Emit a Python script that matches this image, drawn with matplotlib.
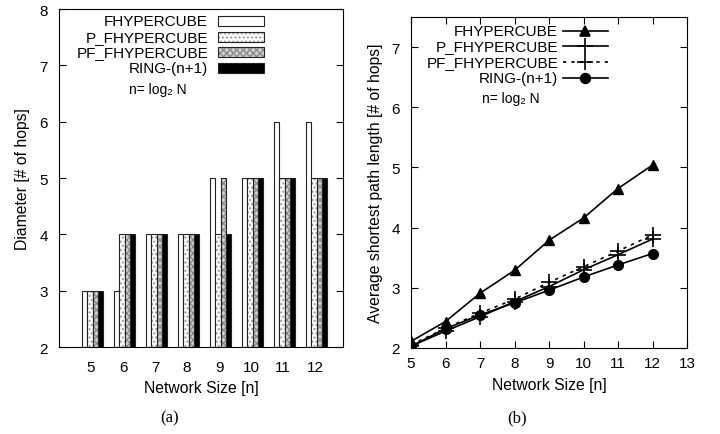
import numpy as np
import matplotlib
matplotlib.use("Agg")
from matplotlib import pyplot as plt
from matplotlib.patches import Rectangle
from matplotlib.lines import Line2D

plt.rcParams['font.family'] = ['Liberation Sans', 'DejaVu Sans']

sizes = [5, 6, 7, 8, 9, 10, 11, 12]
series = ["FHYPERCUBE", "P_FHYPERCUBE", "PF_FHYPERCUBE", "RING-(n+1)"]

# diameter (left panel)
diam_f = [3, 3, 4, 4, 5, 5, 6, 6]
diam_p = [3, 4, 4, 4, 4, 5, 5, 5]
diam_pf = [3, 4, 4, 4, 5, 5, 5, 5]
diam_ring = [3, 4, 4, 4, 4, 5, 5, 5]

# average shortest path length (right panel)
asp_f = [2.11, 2.44, 2.91, 3.29, 3.79, 4.16, 4.65, 5.04]
asp_p = [2.03, 2.28, 2.52, 2.77, 3.02, 3.30, 3.55, 3.81]
asp_pf = [2.05, 2.33, 2.58, 2.81, 3.09, 3.35, 3.61, 3.88]
asp_ring = [2.03, 2.32, 2.55, 2.75, 2.96, 3.18, 3.38, 3.57]

TICK = 11
LAB = 11.3
LEG = 11

fig = plt.figure(figsize=(7.2, 4.35), dpi=100)

# ---------------- (a) bars ----------------
ax1 = fig.add_axes([59/720, 1-348/435, 284/720, 338/435])
x = np.arange(len(sizes))
w = 0.17
bar_styles = [
    dict(face="white", hatch=None, hcol="white"),
    dict(face="white", hatch="....", hcol="#9a9a9a"),
    dict(face="#d0d0d0", hatch="xxxxx", hcol="#8a8a8a"),
    dict(face="black", hatch=None, hcol="black"),
]
diam_all = [diam_f, diam_p, diam_pf, diam_ring]
for i, (vals, st) in enumerate(zip(diam_all, bar_styles)):
    pos = x + (i - 1.5) * w + 0.05
    heights = np.array(vals) - 2
    # fill + hatch
    ax1.bar(pos, heights, w, bottom=2, color=st["face"], hatch=st["hatch"],
            edgecolor=st["hcol"], linewidth=0)
    # outline
    ax1.bar(pos, heights, w, bottom=2, fill=False, edgecolor="#222222", linewidth=0.8)

ax1.set_xlim(-1, 7.875)
ax1.set_ylim(2, 8)
ax1.set_xticks(x)
ax1.set_xticklabels([str(s) for s in sizes])
ax1.tick_params(axis="x", length=0, labelsize=TICK, pad=9)
ax1.tick_params(axis="y", direction="in", right=True, length=5, labelsize=TICK, pad=8)
ax1.set_xlabel("Network Size [n]", fontsize=LAB, labelpad=5)
ax1.set_ylabel("Diameter [# of hops]", fontsize=LAB, labelpad=7)

# legend (a), text right-aligned
leg_y = [0.964, 0.918, 0.872, 0.825]
for lab, st, yy in zip(series, bar_styles, leg_y):
    ax1.text(0.525, yy, lab, transform=ax1.transAxes, ha="right", va="center", fontsize=LEG)
    r = Rectangle((0.56, yy - 0.015), 0.162, 0.03, transform=ax1.transAxes,
                  facecolor=st["face"], hatch=st["hatch"], edgecolor=st["hcol"], linewidth=0)
    ax1.add_patch(r)
    ax1.add_patch(Rectangle((0.56, yy - 0.015), 0.162, 0.03, transform=ax1.transAxes,
                            fill=False, edgecolor="#222222", linewidth=0.8))
ax1.text(0.246, 0.763, "n= log₂ N", transform=ax1.transAxes, ha="left", va="center", fontsize=10)

fig.text(170/720, 1-418/435, "(a)", ha="center", va="center", fontsize=12,
         family=["Liberation Serif", "DejaVu Serif"])

# ---------------- (b) lines ----------------
ax2 = fig.add_axes([411/720, 1-349/435, 276/720, 331/435])
lk = dict(color="black", linewidth=1.2)
dotted = (0, (2, 3))
ax2.plot(sizes, asp_f, marker="^", markersize=7.5, **lk)
ax2.plot(sizes, asp_p, marker="+", markersize=11, markeredgewidth=1.2, **lk)
ax2.plot(sizes, asp_pf, marker="+", markersize=11, markeredgewidth=1.2,
         linestyle=dotted, color="black", linewidth=1.2)
ax2.plot(sizes, asp_ring, marker="o", markersize=7, **lk)

ax2.set_xlim(5, 13)
ax2.set_ylim(2, 7.5)
ax2.set_xticks(range(5, 14))
ax2.set_yticks(range(2, 8))
ax2.tick_params(direction="in", top=True, right=True, length=5, labelsize=TICK)
ax2.tick_params(axis="x", pad=6)
ax2.tick_params(axis="y", pad=8)
ax2.set_xlabel("Network Size [n]", fontsize=LAB, labelpad=5)
ax2.set_ylabel("Average shortest path length [# of hops]", fontsize=LAB, labelpad=6)

leg2_y = [0.958, 0.911, 0.864, 0.816]
styles2 = [
    dict(marker="^", ms=7.5, ls="-"),
    dict(marker="+", ms=11, ls="-"),
    dict(marker="+", ms=11, ls=dotted),
    dict(marker="o", ms=7, ls="-"),
]
for lab, st, yy in zip(series, styles2, leg2_y):
    ax2.text(0.533, yy, lab, transform=ax2.transAxes, ha="right", va="center", fontsize=LEG)
    ax2.add_line(Line2D([0.55, 0.714], [yy, yy], transform=ax2.transAxes, color="black",
                        linewidth=1.2, linestyle=st["ls"]))
    ax2.add_line(Line2D([0.632], [yy], transform=ax2.transAxes, color="black",
                        marker=st["marker"], markersize=st["ms"], markeredgewidth=1.2,
                        linestyle="none"))
ax2.text(0.257, 0.755, "n= log₂ N", transform=ax2.transAxes, ha="left", va="center", fontsize=10)

fig.text(517/720, 1-418/435, "(b)", ha="center", va="center", fontsize=12,
         family=["Liberation Serif", "DejaVu Serif"])

fig.savefig("out.png", dpi=100)
